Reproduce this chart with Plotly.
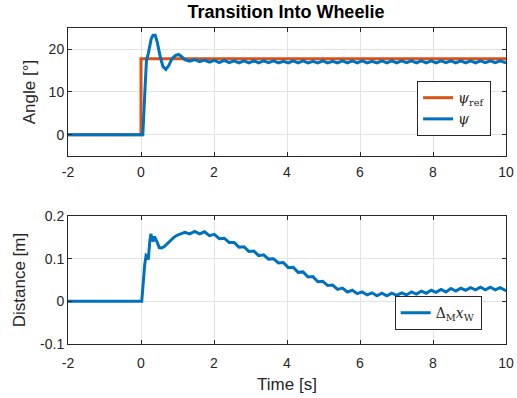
import plotly.graph_objects as go
from plotly.subplots import make_subplots

# ---- pitch angle response (deg) ----
psi_ref_t = [-2.0, 0.0, 0.0, 10.0]
psi_ref_v = [0.0, 0.0, 17.8, 17.8]

psi_t_start = [-2.0, 0.05, 0.10, 0.15, 0.20, 0.28, 0.33, 0.39, 0.45, 0.52, 0.60,
               0.68, 0.76, 0.85, 0.95, 1.03, 1.10]
psi_v_start = [0.0, 0.0, 9.0, 17.5, 19.0, 22.5, 23.3, 23.3, 21.5, 18.5, 16.0,
               15.3, 16.2, 17.8, 18.6, 18.8, 18.4]

# common sampling after the transient (s)
t_tail = [1.2, 1.335, 1.47, 1.605, 1.74, 1.875, 2.01, 2.145, 2.28, 2.415, 2.55,
          2.685, 2.82, 2.955, 3.09, 3.225, 3.36, 3.495, 3.63, 3.765, 3.9, 4.035,
          4.17, 4.305, 4.44, 4.575, 4.71, 4.845, 4.98, 5.115, 5.25, 5.385, 5.52,
          5.655, 5.79, 5.925, 6.06, 6.195, 6.33, 6.465, 6.6, 6.735, 6.87, 7.005,
          7.14, 7.275, 7.41, 7.545, 7.68, 7.815, 7.95, 8.085, 8.22, 8.355, 8.49,
          8.625, 8.76, 8.895, 9.03, 9.165, 9.3, 9.435, 9.57, 9.705, 9.84, 9.975,
          10.0]

psi_v_tail = [17.6, 17.2, 17.6, 17.1, 17.5, 17.0, 17.4, 16.9, 17.4, 16.9, 17.3,
              16.8, 17.3, 16.8, 17.3, 16.8, 17.3, 16.9, 17.3, 16.8, 17.2, 16.8,
              17.3, 16.8, 17.3, 16.8, 17.2, 16.8, 17.3, 16.8, 17.2, 16.8, 17.3,
              16.8, 17.3, 16.8, 17.3, 16.8, 17.2, 16.8, 17.3, 16.8, 17.3, 16.8,
              17.3, 16.9, 17.3, 16.8, 17.3, 16.8, 17.3, 16.8, 17.3, 16.9, 17.3,
              16.8, 17.3, 16.8, 17.3, 16.8, 17.3, 16.9, 17.3, 16.9, 17.3, 16.9,
              17.1]

# ---- wheel displacement (m) ----
dx_t_start = [-2.0, 0.02, 0.10, 0.14, 0.17, 0.20, 0.24, 0.27, 0.30, 0.33, 0.37,
              0.41, 0.45, 0.50, 0.56, 0.63, 0.72, 0.81, 0.90, 0.99, 1.08]
dx_v_start = [0.0, 0.0, 0.085, 0.108, 0.106, 0.098, 0.140, 0.158, 0.148, 0.140,
              0.152, 0.146, 0.137, 0.126, 0.125, 0.128, 0.136, 0.144, 0.150,
              0.155, 0.158]

dx_v_tail = [0.162, 0.158, 0.164, 0.158, 0.163, 0.154, 0.157, 0.147, 0.148, 0.138,
             0.138, 0.127, 0.128, 0.117, 0.118, 0.107, 0.109, 0.099, 0.100, 0.090,
             0.091, 0.079, 0.080, 0.068, 0.069, 0.057, 0.058, 0.046, 0.047, 0.037,
             0.038, 0.028, 0.031, 0.022, 0.026, 0.018, 0.022, 0.015, 0.020, 0.013,
             0.019, 0.013, 0.019, 0.014, 0.020, 0.015, 0.022, 0.017, 0.024, 0.019,
             0.026, 0.021, 0.028, 0.022, 0.030, 0.024, 0.031, 0.026, 0.032, 0.027,
             0.033, 0.027, 0.033, 0.027, 0.032, 0.026, 0.028]

x_ticks = [-2, 0, 2, 4, 6, 8, 10]
x_ticktext = ["-2", "0", "2", "4", "6", "8", "10"]
y1_ticks = [0, 10, 20]
y1_ticktext = ["0", "10", "20"]
y2_ticks = [-0.1, 0, 0.1, 0.2]
y2_ticktext = ["-0.1", "0", "0.1", "0.2"]

BLUE = "#0072BD"
ORANGE = "#D95319"
INK = "#262626"
GRID = "#e3e3e3"
SANS = "Liberation Sans, Arial"

fig = make_subplots(rows=2, cols=1, vertical_spacing=0.19)

fig.add_trace(go.Scatter(x=psi_ref_t, y=psi_ref_v, mode="lines",
                         line=dict(color=ORANGE, width=3),
                         name="<i>ψ</i><sub>ref</sub>", legend="legend"),
              row=1, col=1)
fig.add_trace(go.Scatter(x=psi_t_start + t_tail, y=psi_v_start + psi_v_tail,
                         mode="lines", line=dict(color=BLUE, width=3),
                         name="<i>ψ</i>", legend="legend"),
              row=1, col=1)
fig.add_trace(go.Scatter(x=dx_t_start + t_tail, y=dx_v_start + dx_v_tail,
                         mode="lines", line=dict(color=BLUE, width=3),
                         name="Δ<sub>M</sub><i>x</i><sub>W</sub>", legend="legend2"),
              row=2, col=1)

axis_common = dict(showline=True, linecolor=INK, linewidth=1, mirror="ticks",
                   ticks="inside", ticklen=4, tickcolor=INK, automargin=False,
                   showgrid=True, gridcolor=GRID, gridwidth=1, zeroline=False,
                   tickfont=dict(family=SANS, size=14, color=INK))

fig.update_xaxes(range=[-2, 10], tickvals=x_ticks, ticktext=x_ticktext,
                 ticklabelstandoff=3, row=1, col=1, **axis_common)
fig.update_xaxes(range=[-2, 10], tickvals=x_ticks, ticktext=x_ticktext,
                 ticklabelstandoff=6, row=2, col=1, **axis_common)

fig.update_xaxes(title=dict(text="Time [s]", standoff=8,
                            font=dict(family=SANS, size=17, color=INK)),
                 row=2, col=1)
fig.update_yaxes(range=[-5, 25], tickvals=y1_ticks, ticktext=y1_ticktext,
                 title=dict(text="Angle [°]", standoff=8,
                            font=dict(family=SANS, size=17, color=INK)),
                 row=1, col=1, **axis_common)
fig.update_yaxes(range=[-0.1, 0.2], tickvals=y2_ticks, ticktext=y2_ticktext,
                 title=dict(text="Distance [m]", standoff=10,
                            font=dict(family=SANS, size=17, color=INK)),
                 row=2, col=1, **axis_common)

legend_style = dict(bgcolor="white", bordercolor=INK, borderwidth=1,
                    font=dict(family="DejaVu Serif, Liberation Serif", size=14, color=INK),
                    xanchor="right", yanchor="bottom", tracegroupgap=0)

fig.update_layout(
    width=517, height=398,
    margin=dict(l=68, r=11, t=28, b=54),
    paper_bgcolor="white", plot_bgcolor="white",
    showlegend=True,
    title=dict(text="<b>Transition Into Wheelie</b>", x=0.553, xanchor="center",
               y=0.97, yanchor="middle",
               font=dict(family=SANS, size=18, color="black")),
    legend=dict(x=0.966, y=0.658, **legend_style),
    legend2=dict(x=0.9445, y=0.044, **legend_style),
)
fig.update_layout(yaxis=dict(domain=[0.595, 1.0]), yaxis2=dict(domain=[0.0, 0.405]))

fig.write_html("out.html")
